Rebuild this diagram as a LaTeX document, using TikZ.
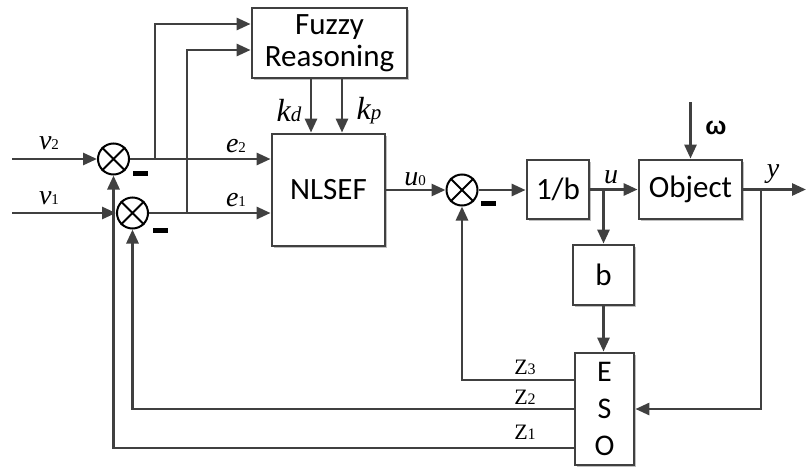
\documentclass[tikz,border=0pt]{standalone}
\usepackage{fontspec}
\setmainfont{Carlito}
\newfontfamily\tnr{Liberation Serif}
\newfontfamily\lsans{Liberation Sans}
\usetikzlibrary{arrows.meta,calc,shadows}
\definecolor{ln}{HTML}{404040}
\newcommand{\vlab}[2]{{\tnr\fontsize{28}{28}\selectfont\itshape #1}{\tnr\fontsize{15}{15}\selectfont #2}}
\newcommand{\klab}[2]{{\tnr\fontsize{32}{32}\selectfont\itshape #1}{\tnr\fontsize{21}{21}\selectfont\itshape #2}}
\newcommand{\zlab}[1]{{\tnr\fontsize{22}{22}\selectfont Z}{\tnr\fontsize{16}{16}\selectfont #1}}
\begin{document}
\begin{tikzpicture}[x=1pt,y=-1pt,
  line/.style={draw=ln,line width=2.8pt},
  arr/.style={line,-{Triangle[length=14pt,width=12pt]}},
  blk/.style={draw=ln,line width=2.8pt,fill=white,inner sep=0pt,
    font=\fontsize{31}{33}\selectfont,
    drop shadow={shadow xshift=1.5pt,shadow yshift=-1.5pt,opacity=0.25,fill=black}},
  sum/.style={circle,draw=black,line width=2pt,minimum size=31pt,inner sep=0pt},
  minus/.style={fill=black,minimum width=15pt,minimum height=5pt,inner sep=0pt},
  lab/.style={inner sep=0pt}]
\useasboundingbox (0,0) rectangle (806,466);

% blocks
\node[blk,minimum width=155pt,minimum height=70pt,align=center,
  font=\fontsize{31}{32}\selectfont] (fuzzy) at (329.5,43) {Fuzzy\\Reasoning};
\node[blk,minimum width=113pt,minimum height=112pt] (nlsef) at (328.5,190) {NLSEF};
\node[blk,minimum width=62pt,minimum height=59pt] (inv) at (558,189.5) {1/b};
\node[blk,minimum width=103pt,minimum height=59pt] (obj) at (690.5,189.5) {Object};
\node[blk,minimum width=61pt,minimum height=60pt] (bb) at (603.5,275) {b};
\node[blk,minimum width=59pt,minimum height=112pt,align=center,
  font=\fontsize{30}{37}\selectfont] (eso) at (604.5,409) {E\\S\\O};

% summing junctions
\node[sum] (c1) at (113.5,159) {};
\node[sum] (c2) at (132.5,213) {};
\node[sum] (c3) at (462,190) {};
\foreach \n in {c1,c2,c3}
  \draw[black,line width=2pt] (\n.north east) -- (\n.south west) (\n.north west) -- (\n.south east);
\node[minus] (m1) at (140,173) {};
\node[minus] (m2) at (160,230) {};
\node[minus] (m3) at (488,203) {};

% coordinates
\coordinate (v2s) at (12,159);
\coordinate (v1s) at (12,213);
\coordinate (t1) at (155,159);
\coordinate (t2) at (187,213);
\coordinate (ub) at (603.5,189.5);
\coordinate (yb) at (761,189.5);
\coordinate (yout) at (806,189.5);
\coordinate (ws) at (690.5,102);
\coordinate (z3) at (575,380);
\coordinate (z1) at (575,448);

% inputs
\draw[arr] (v2s) -- (c1.west);
\draw[arr] (v1s) -- (c2.west);
\draw[arr] (c1.east) -- (c1.east -| nlsef.west);
\draw[arr] (c2.east) -- (c2.east -| nlsef.west);
\draw[arr] (t1) |- ([yshift=19pt]fuzzy.west);
\draw[arr] (t2) |- ([yshift=-7pt]fuzzy.west);
\draw[arr] ([xshift=-18.5pt]fuzzy.south) -- ([xshift=-18.5pt]fuzzy.south |- nlsef.north);
\draw[arr] ([xshift=12.5pt]fuzzy.south) -- ([xshift=12.5pt]fuzzy.south |- nlsef.north);

% forward path
\draw[arr] (nlsef.east |- c3) -- (c3.west);
\draw[arr] (c3.east) -- (c3.east -| inv.west);
\draw[arr] (inv.east) -- (obj.west);
\draw[arr] (ws) -- (obj.north);
\draw[arr] (obj.east) -- (yout);
\draw[arr] (ub) -- (bb.north);
\draw[arr] (bb.south) -- (bb.south |- eso.north);
\draw[arr] (yb) |- (eso.east);

% feedback
\draw[arr] (z3) -| (c3.south);
\draw[arr] (eso.west) -| (c2.south);
\draw[arr] (z1) -| (c1.south);

% labels
\node[lab] (lv2) at (49,143) {\vlab{v}{2}};
\node[lab] (lv1) at (49,198) {\vlab{v}{1}};
\node[lab] (le2) at (236,146) {\vlab{e}{2}};
\node[lab] (le1) at (236,200) {\vlab{e}{1}};
\node[lab] (lkd) at (289,111) {\klab{k}{d}};
\node[lab] (lkp) at (369,111) {\klab{k}{p}};
\node[lab] (lu0) at (415,179) {\vlab{u}{0}};
\node[lab] (lu) at (611,177) {{\tnr\fontsize{28}{28}\selectfont\itshape u}};
\node[lab] (lw) at (716,128) {{\lsans\bfseries\fontsize{25}{25}\selectfont ω}};
\node[lab] (ly) at (773,174) {{\tnr\fontsize{28}{28}\selectfont\itshape y}};
\node[lab] (lz3) at (525,367) {\zlab{3}};
\node[lab] (lz2) at (525,397) {\zlab{2}};
\node[lab] (lz1) at (525,432) {\zlab{1}};
\end{tikzpicture}
\end{document}
